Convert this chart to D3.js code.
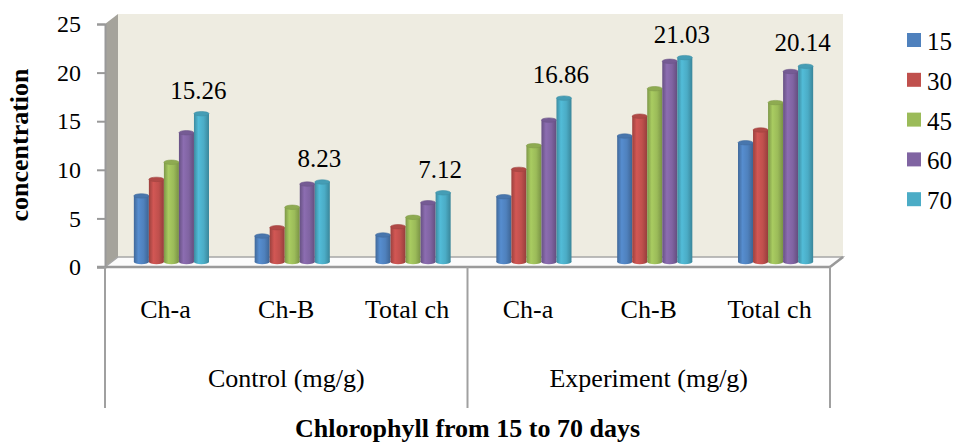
<!DOCTYPE html>
<html><head><meta charset="utf-8">
<script src="https://cdn.jsdelivr.net/npm/d3@7"></script>
<style>
body{margin:0;background:#fff;}
svg text{font-family:"Liberation Serif","Times New Roman",Times,serif !important;fill:#000;}
</style>
</head><body>
<svg id="c" width="955" height="443"></svg>
<script>
// ---- data ----
const categories = ["Ch-a", "Ch-B", "Total ch", "Ch-a", "Ch-B", "Total ch"];
const groups = ["Control (mg/g)", "Experiment (mg/g)"];
const seriesNames = ["15", "30", "45", "60", "70"];
const s15 = [6.80, 2.67, 2.78, 6.72, 12.96, 12.27];
const s30 = [8.50, 3.53, 3.63, 9.53, 15.00, 13.58];
const s45 = [10.26, 5.63, 4.60, 11.97, 17.83, 16.40];
const s60 = [13.30, 8.02, 6.10, 14.60, 20.65, 19.60];
const s70 = [15.26, 8.23, 7.12, 16.86, 21.03, 20.14];
const dataLabels = ["15.26", "8.23", "7.12", "16.86", "21.03", "20.14"];
const yTicks = [0, 5, 10, 15, 20, 25];
const colors = ["#4f81bd", "#c0504d", "#9bbb59", "#8064a2", "#4bacc6"];
const seriesValues = [s15, s30, s45, s60, s70];

// ---- layout ----
const svg = d3.select("#c");
const x0 = 105, x1 = 830, yTop = 24, yBase = 267;
const dX = 13, dY = -10;     // depth of back wall
const mX = 6, mY = -5;       // bars at mid-depth
const FONT = "'Liberation Serif','Times New Roman',Times,serif";

const x = d3.scaleBand().domain(d3.range(categories.length)).range([x0, x1]);
const xs = d3.scaleBand().domain(seriesNames).range([0, x.bandwidth()]).paddingInner(0).paddingOuter(1.52);
const y = d3.scaleLinear().domain([0, 25]).range([yBase, yTop]);

// gradients
const defs = svg.append("defs");
colors.forEach((c, i) => {
  const g = defs.append("linearGradient").attr("id", "g" + i).attr("x1", "0").attr("x2", "1").attr("y1", "0").attr("y2", "0");
  const base = d3.color(c);
  g.append("stop").attr("offset", "0%").attr("stop-color", base.darker(0.6));
  g.append("stop").attr("offset", "30%").attr("stop-color", base.brighter(0.25));
  g.append("stop").attr("offset", "65%").attr("stop-color", base);
  g.append("stop").attr("offset", "100%").attr("stop-color", base.darker(0.7));
});

// back wall
svg.append("rect").attr("x", x0 + dX).attr("y", y(25) + dY).attr("width", x1 - x0).attr("height", y(0) - y(25))
  .attr("fill", "#eeece1");
// side wall
svg.append("polygon").attr("points", [[x0, y(25)], [x0 + dX, y(25) + dY], [x0 + dX, y(0) + dY], [x0, y(0)]].join(" "))
  .attr("fill", "#a5a39b");
// floor
svg.append("polygon").attr("points", [[x0, y(0)], [x0 + dX, y(0) + dY], [x1 + dX, y(0) + dY], [x1, y(0)]].join(" "))
  .attr("fill", "#fbfbfb").attr("stroke", "#a6a6a6").attr("stroke-width", 1.5);
svg.append("line").attr("x1", x1).attr("y1", y(0)).attr("x2", x1 + dX).attr("y2", y(0) + dY)
  .attr("stroke", "#999").attr("stroke-width", 2.5);

// bars
seriesValues.forEach((vals, si) => {
  const s = seriesNames[si];
  const gr = svg.append("g");
  vals.forEach((v, ci) => {
    const bx = x(ci) + xs(s) + mX, w = xs.bandwidth();
    const top = y(v) + mY, base = y(0) + mY;
    gr.append("ellipse").attr("cx", bx + w / 2).attr("cy", base).attr("rx", w / 2).attr("ry", 2.2)
      .attr("fill", "url(#g" + si + ")");
    gr.append("rect").attr("x", bx).attr("y", top).attr("width", w).attr("height", base - top)
      .attr("fill", "url(#g" + si + ")");
    gr.append("ellipse").attr("cx", bx + w / 2).attr("cy", top).attr("rx", w / 2).attr("ry", 2.2)
      .attr("fill", d3.color(colors[si]).darker(0.25)).attr("stroke", d3.color(colors[si]).darker(0.5)).attr("stroke-width", 0.6);
  });
});

// front floor edge
svg.append("line").attr("x1", x0 - 8).attr("x2", x1).attr("y1", y(0)).attr("y2", y(0))
  .attr("stroke", "#999").attr("stroke-width", 2.5);

// y axis
const yAxis = svg.append("g").attr("transform", `translate(${x0},0)`)
  .call(d3.axisLeft(y).tickValues(yTicks).tickSize(8).tickPadding(16).tickFormat(d3.format("d")));
yAxis.attr("font-family", FONT);
yAxis.select(".domain").attr("stroke", "#999").attr("stroke-width", 2);
yAxis.selectAll(".tick line").attr("stroke", "#999").attr("stroke-width", 2);
yAxis.selectAll(".tick text").attr("font-size", 24).attr("font-family", FONT).attr("fill", "#000");

// separators below axis
[x0, x(3), x1].forEach(px => {
  svg.append("line").attr("x1", px).attr("x2", px).attr("y1", y(0)).attr("y2", 408)
    .attr("stroke", "#a0a0a0").attr("stroke-width", 2);
});

// category labels
svg.append("g").selectAll("text").data(categories).join("text")
  .attr("x", (d, i) => x(i) + x.bandwidth() / 2).attr("y", 318)
  .attr("text-anchor", "middle").attr("font-size", 26).attr("font-family", FONT).text(d => d);

// group labels
svg.append("g").selectAll("text").data(groups).join("text")
  .attr("x", (d, i) => (x(i * 3) + x(i * 3 + 2) + x.bandwidth()) / 2).attr("y", 387)
  .attr("text-anchor", "middle").attr("font-size", 26).attr("font-family", FONT).text(d => d);

// data labels
svg.append("g").selectAll("text").data(dataLabels).join("text")
  .attr("x", (d, i) => x(i) + xs("70") + mX + xs.bandwidth() / 2 - 3)
  .attr("y", (d, i) => y(+d) + mY - 15)
  .attr("text-anchor", "middle").attr("font-size", 25).attr("font-family", FONT).text(d => d);

// axis titles
svg.append("text").attr("x", (x0 + x1) / 2).attr("y", 437).attr("text-anchor", "middle").attr("font-family", FONT)
  .attr("font-size", 26).attr("font-weight", "bold").text("Chlorophyll from 15 to 70 days");
svg.append("text").attr("transform", "translate(28,145) rotate(-90)").attr("text-anchor", "middle").attr("font-family", FONT)
  .attr("font-size", 26).attr("font-weight", "bold").text("concentration");

// legend
const lg = svg.append("g").attr("transform", "translate(907,33)");
seriesNames.forEach((s, i) => {
  lg.append("rect").attr("x", 0).attr("y", i * 39.8).attr("width", 14).attr("height", 14).attr("fill", colors[i]);
  lg.append("text").attr("x", 20).attr("y", i * 39.8 + 17).attr("font-size", 25).attr("font-family", FONT).text(s);
});
</script>
</body></html>
